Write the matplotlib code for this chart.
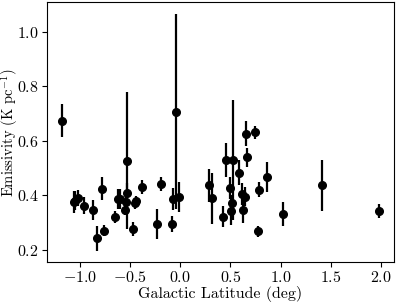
import matplotlib
matplotlib.use('Agg')
import matplotlib.pyplot as plt
from matplotlib.ticker import MultipleLocator, FormatStrFormatter
import numpy as np

# galactic latitude (deg), emissivity (K/pc) and 1-sigma errors
lat = [-1.173, -1.06, -1.05, -1.02, -0.954, -0.868, -0.828, -0.778, -0.755, -0.650,
       -0.624, -0.595, -0.530, -0.527, -0.543, -0.547, -0.45, -0.44, -0.473, -0.378,
       -0.195, -0.232, -0.043, -0.086, -0.07, -0.01, 0.288, 0.312, 0.424, 0.451,
       0.524, 0.491, 0.517, 0.507, 0.583, 0.616, 0.640, 0.626, 0.656, 0.663,
       0.743, 0.782, 0.775, 0.862, 1.024, 1.415, 1.975]
emis = [0.673, 0.374, 0.380, 0.389, 0.362, 0.347, 0.243, 0.424, 0.270, 0.322,
        0.387, 0.387, 0.527, 0.409, 0.377, 0.346, 0.370, 0.378, 0.276, 0.430,
        0.442, 0.295, 0.707, 0.294, 0.387, 0.395, 0.437, 0.389, 0.322, 0.529,
        0.530, 0.427, 0.370, 0.341, 0.483, 0.405, 0.395, 0.347, 0.625, 0.539,
        0.631, 0.421, 0.267, 0.467, 0.331, 0.437, 0.343]
err = [0.060, 0.040, 0.035, 0.030, 0.030, 0.037, 0.046, 0.042, 0.020, 0.022,
       0.037, 0.037, 0.250, 0.035, 0.030, 0.020, 0.020, 0.020, 0.027, 0.026,
       0.025, 0.056, 0.357, 0.030, 0.040, 0.055, 0.060, 0.094, 0.040, 0.062,
       0.220, 0.040, 0.030, 0.050, 0.046, 0.040, 0.035, 0.050, 0.046, 0.034,
       0.023, 0.028, 0.020, 0.056, 0.043, 0.094, 0.025]

plt.rcParams['font.family'] = 'serif'
plt.rcParams['font.serif'] = ['cmr10']
plt.rcParams['mathtext.fontset'] = 'cm'
plt.rcParams['axes.formatter.use_mathtext'] = True
plt.rcParams['font.size'] = 11.5

fig = plt.figure(figsize=(3.98, 3.03), dpi=100)
ax = fig.add_axes([0.117, 0.134, 0.874, 0.858])
ax.errorbar(lat, emis, yerr=err, fmt='o', color='k', ms=5.5, elinewidth=1.6, capsize=0)
ax.set_xlabel('Galactic Latitude (deg)', labelpad=1)
ax.set_ylabel(r'Emissivity (K pc$^{-1}$)', fontsize=10.5)
ax.yaxis.set_label_coords(-0.076, 0.5)
ax.xaxis.set_major_locator(MultipleLocator(0.5))
ax.xaxis.set_major_formatter(FormatStrFormatter(r'$%.1f$'))
ax.yaxis.set_major_locator(MultipleLocator(0.2))
ax.yaxis.set_major_formatter(FormatStrFormatter(r'$%.1f$'))
ax.tick_params(pad=2)

fig.savefig('out.png', dpi=100)
